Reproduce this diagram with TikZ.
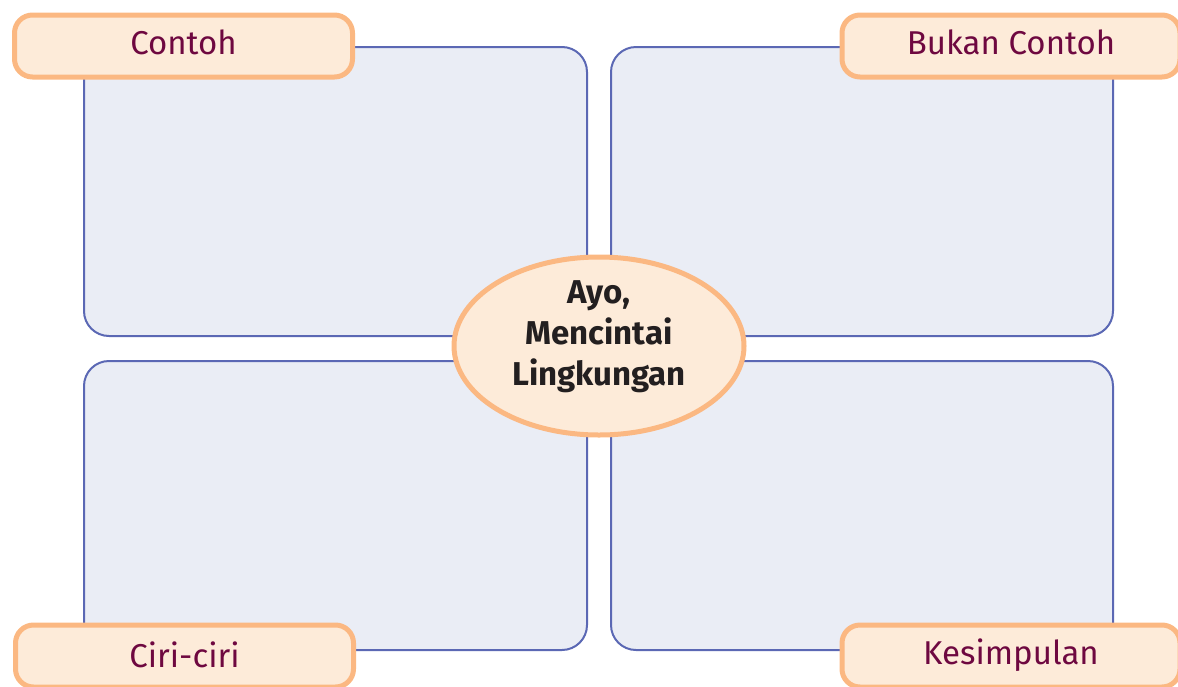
\documentclass[tikz,border=0pt]{standalone}
\usepackage{fontspec}
\setmainfont{Fira Sans}
\usetikzlibrary{shapes.geometric}
\definecolor{boxline}{HTML}{5B68B4}
\definecolor{boxfill}{HTML}{EAEDF5}
\definecolor{lblfill}{HTML}{FDEBD9}
\definecolor{lblline}{HTML}{FBB882}
\definecolor{lbltext}{HTML}{6E0840}
\definecolor{ctrtext}{HTML}{231F20}
\tikzset{
  panel/.style={draw=boxline, fill=boxfill, line width=2pt, rounded corners=25pt},
  lbl/.style={draw=lblline, fill=lblfill, line width=5pt, rounded corners=18pt,
    minimum width=338pt, minimum height=62pt, inner sep=0pt},
  lbltxt/.style={text=lbltext, font=\fontsize{33}{37}\selectfont, inner sep=0pt},
  centre/.style={ellipse, draw=lblline, fill=lblfill, line width=5pt,
    minimum width=290pt, minimum height=178pt, inner sep=0pt},
  ctrtxt/.style={text=ctrtext, align=center, inner sep=0pt,
    font=\fontsize{33}{41}\selectfont\bfseries}
}
\begin{document}
\begin{tikzpicture}[x=1pt,y=-1pt]
\useasboundingbox (0,0) rectangle (1178,686);
\clip (0,0) rectangle (1178,686);
\path[panel] (84,47) rectangle (587,336);
\path[panel] (611,47) rectangle (1113,336);
\path[panel] (84,361) rectangle (587,650);
\path[panel] (611,361) rectangle (1113,650);
\node[lbl] (contoh) at (183.5,46) {};
\node[lbltxt] at (183.5,42) {Contoh};
\node[lbl] (bukan) at (1011,46) {};
\node[lbltxt] at (1011,42) {Bukan Contoh};
\node[lbl] (ciri) at (184.5,656) {};
\node[lbltxt] at (184.5,655) {Ciri-ciri};
\node[lbl] (kesim) at (1011,656) {};
\node[lbltxt] at (1011,655) {Kesimpulan};
\node[centre] (ctr) at (599,346) {};
\node[ctrtxt] at (599,337) {Ayo,\\Mencintai\\Lingkungan};
\end{tikzpicture}
\end{document}
